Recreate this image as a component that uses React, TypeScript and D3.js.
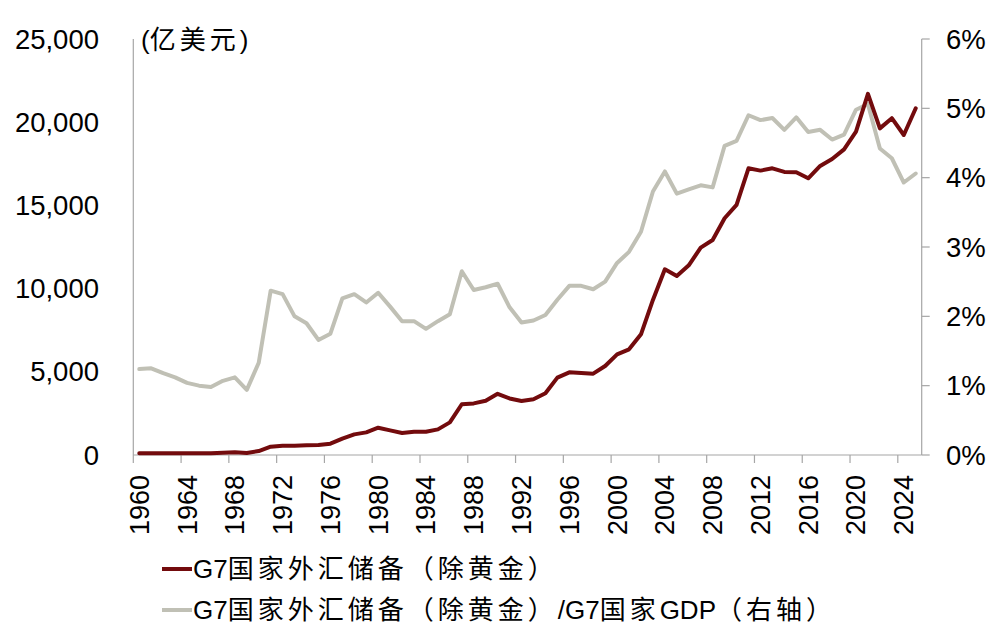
import React from "react";
import * as d3 from "d3";

const years: number[] = d3.range(1960, 2026);

// G7 FX reserves ex gold (亿美元), left axis
const reserves: number[] = [
  100, 110, 110, 110, 110, 110, 110, 130, 160, 120,
  240, 500, 560, 560, 580, 600, 680, 980, 1240, 1360,
  1640, 1480, 1320, 1400, 1400, 1540, 1960, 3050, 3100, 3260,
  3680, 3400, 3250, 3350, 3710, 4650, 4970, 4930, 4890, 5350,
  6050, 6350, 7250, 9320, 11160, 10760, 11400, 12460, 12920, 14230,
  15030, 17230, 17090, 17230, 17010, 16990, 16630, 17370, 17790, 18370,
  19430, 21700, 19630, 20240, 19230, 20840,
];

// reserves / G7 GDP (%), right axis
const ratio: number[] = [
  1.24, 1.25, 1.18, 1.12, 1.04, 1.0, 0.98, 1.07, 1.12, 0.94,
  1.33, 2.37, 2.32, 2.0, 1.9, 1.66, 1.75, 2.26, 2.32, 2.2,
  2.34, 2.14, 1.93, 1.93, 1.82, 1.93, 2.03, 2.65, 2.38, 2.42,
  2.47, 2.13, 1.91, 1.94, 2.02, 2.24, 2.44, 2.44, 2.39, 2.5,
  2.77, 2.93, 3.22, 3.8, 4.09, 3.77, 3.83, 3.89, 3.86, 4.46,
  4.53, 4.9, 4.83, 4.86, 4.69, 4.87, 4.66, 4.69, 4.55, 4.62,
  4.98, 5.06, 4.42, 4.28, 3.93, 4.06,
];

const leftTicks: number[] = [0, 5000, 10000, 15000, 20000, 25000];
const rightTicks: number[] = [0, 1, 2, 3, 4, 5, 6];
const unitLabel = "(亿美元)";
const legendLabels: string[] = [
  "G7国家外汇储备（除黄金）",
  "G7国家外汇储备（除黄金）/G7国家GDP（右轴）",
];

const RED = "#730b0d";
const GRAY = "#c0c0b5";
const AXIS = "#a6a6a6";
const LATIN = "'Liberation Sans', Arial, sans-serif";
const CJK = "'Noto Sans CJK SC', sans-serif";

const L = 133.3;
const R = 921.7;
const T = 39;
const B = 455;

function Mixed({ text, x, y, size, cjkSpacing }: { text: string; x: number; y: number; size: number; cjkSpacing: number }) {
  const runs: { s: string; cjk: boolean }[] = [];
  for (const ch of text) {
    const cjk = /[\u3000-\u9fff\uff00-\uffef]/.test(ch);
    const last = runs[runs.length - 1];
    if (last && last.cjk === cjk) last.s += ch;
    else runs.push({ s: ch, cjk });
  }
  return (
    <text x={x} y={y} dy="0.35em" fontSize={size} fill="#000" fontFamily={LATIN}>
      {runs.map((r, i) => (
        <tspan key={i} fontFamily={r.cjk ? CJK : LATIN} letterSpacing={r.cjk ? cjkSpacing : 0}>
          {r.s}
        </tspan>
      ))}
    </text>
  );
}

export default function App() {
  const x = d3.scaleBand<number>().domain(years).range([L, R]).padding(0);
  const cx = (yr: number) => (x(yr) as number) + x.bandwidth() / 2;
  const yL = d3.scaleLinear().domain([0, 25000]).range([B, T]);
  const yR = d3.scaleLinear().domain([0, 6]).range([B, T]);

  const lineL = d3.line<number>().x((_, i) => cx(years[i])).y((d) => yL(d));
  const lineR = d3.line<number>().x((_, i) => cx(years[i])).y((d) => yR(d));

  const fmt = d3.format(",");
  const xTickYears = years.filter((yr) => (yr - 1960) % 4 === 0);

  return (
    <svg width={1008} height={642} style={{ position: "absolute", left: 0, top: 0, background: "#fff" }}>
      {/* axes */}
      <line x1={L} x2={L} y1={T} y2={B} stroke={AXIS} strokeWidth={1.2} />
      <line x1={R} x2={R} y1={T} y2={B} stroke={AXIS} strokeWidth={1.2} />
      <line x1={L} x2={R} y1={B} y2={B} stroke={AXIS} strokeWidth={1.2} />
      {rightTicks.map((t) => (
        <line key={t} x1={R} x2={R + 8} y1={yR(t)} y2={yR(t)} stroke={AXIS} strokeWidth={1.2} />
      ))}
      {xTickYears.map((yr) => (
        <line key={yr} x1={x(yr)} x2={x(yr)} y1={B} y2={B + 8} stroke={AXIS} strokeWidth={1.2} />
      ))}

      {/* left tick labels */}
      {leftTicks.map((t) => (
        <text key={t} x={99} y={yL(t)} dy="0.35em" textAnchor="end" fontSize={27.5} fontFamily={LATIN} fill="#000">
          {fmt(t)}
        </text>
      ))}
      {/* right tick labels */}
      {rightTicks.map((t) => (
        <text key={t} x={946} y={yR(t)} dy="0.35em" textAnchor="start" fontSize={27.5} fontFamily={LATIN} fill="#000">
          {t + "%"}
        </text>
      ))}
      {/* x labels */}
      {xTickYears.map((yr) => (
        <text
          key={yr}
          transform={`translate(${cx(yr)},475) rotate(-90)`}
          dy="0.35em"
          textAnchor="end"
          fontSize={27}
          fontFamily={LATIN}
          fill="#000"
        >
          {yr}
        </text>
      ))}

      <Mixed text={unitLabel} x={141} y={40} size={26} cjkSpacing={4} />

      {/* series */}
      <path d={lineR(ratio) || ""} fill="none" stroke={GRAY} strokeWidth={4} strokeLinejoin="round" strokeLinecap="round" />
      <path d={lineL(reserves) || ""} fill="none" stroke={RED} strokeWidth={4} strokeLinejoin="round" strokeLinecap="round" />

      {/* legend */}
      <line x1={162} x2={192} y1={569} y2={569} stroke={RED} strokeWidth={4} />
      <Mixed text={legendLabels[0]} x={193} y={569} size={26} cjkSpacing={4} />
      <line x1={162} x2={192} y1={610} y2={610} stroke={GRAY} strokeWidth={4} />
      <Mixed text={legendLabels[1]} x={193} y={610} size={26} cjkSpacing={4} />
    </svg>
  );
}
